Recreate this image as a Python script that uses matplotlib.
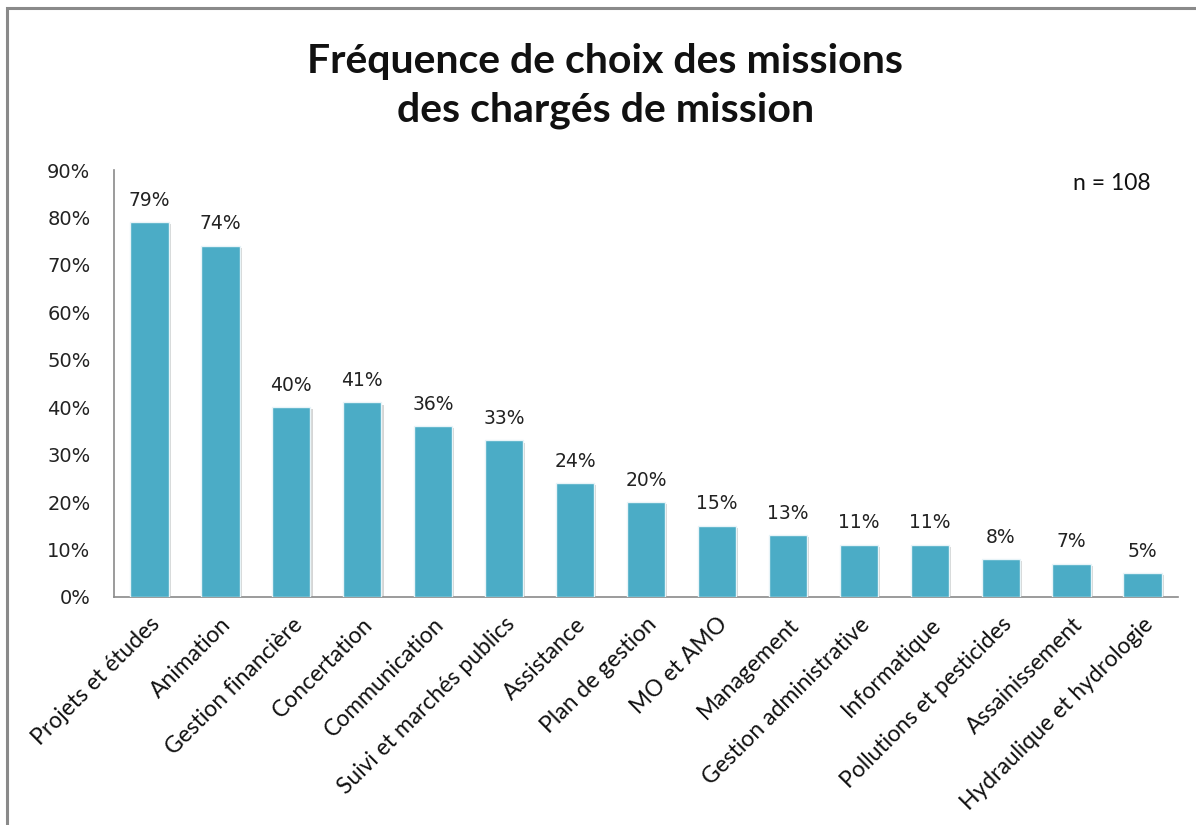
"""Fréquence de choix des missions des chargés de mission."""

import matplotlib.pyplot as plt
from matplotlib.patches import Rectangle
from matplotlib import patheffects as pe
from matplotlib.ticker import MultipleLocator, PercentFormatter

categories = [
    "Projets et études",
    "Animation",
    "Gestion financière",
    "Concertation",
    "Communication",
    "Suivi et marchés publics",
    "Assistance",
    "Plan de gestion",
    "MO et AMO",
    "Management",
    "Gestion administrative",
    "Informatique",
    "Pollutions et pesticides",
    "Assainissement",
    "Hydraulique et hydrologie",
]
values = [79, 74, 40, 41, 36, 33, 24, 20, 15, 13, 11, 11, 8, 7, 5]
n_label = "n = 108"

bar_color = "#4BACC6"
label_font = ["Lato", "DejaVu Sans"]

fig = plt.figure(figsize=(11.96, 8.25), dpi=100, facecolor="white")

# outer chart frame (cut off on the right and bottom)
fig.patches.append(
    Rectangle((7 / 1196, -0.1), 1.2, (825 - 7) / 825 + 0.1 - 0.001,
              transform=fig.transFigure, fill=False, edgecolor="#8a8a8a",
              linewidth=2.2, zorder=0)
)

ax = fig.add_axes([114 / 1196, 1 - 597 / 825, (1178 - 114) / 1196, (597 - 170) / 825])

x = list(range(len(categories)))
bars = ax.bar(x, values, width=0.54, color=bar_color, edgecolor="#e8f4f8",
              linewidth=1.0, zorder=3)
for b in bars:
    b.set_path_effects([
        pe.SimplePatchShadow(offset=(1.5, -1.5), shadow_rgbFace="#888888", alpha=0.35),
        pe.Normal(),
    ])

for xi, v in zip(x, values):
    ax.annotate(f"{v}%", (xi, v), textcoords="offset points", xytext=(0, 9),
                ha="center", va="bottom", fontsize=13.5, color="#222222",
                family="DejaVu Sans")

ax.set_xlim(-0.5, len(categories) - 0.5)
ax.set_ylim(0, 90)
ax.yaxis.set_major_locator(MultipleLocator(10))
ax.yaxis.set_major_formatter(PercentFormatter(decimals=0))
ax.tick_params(axis="y", length=0, pad=17, labelsize=14, labelcolor="#222222")
ax.tick_params(axis="x", length=0, pad=12)
ax.set_xticks(x)
ax.set_xticklabels(categories, rotation=45, ha="right", va="top",
                   rotation_mode="anchor", fontsize=16.5, family=label_font,
                   color="#111111")

for side in ("top", "right"):
    ax.spines[side].set_visible(False)
for side in ("left", "bottom"):
    ax.spines[side].set_color("#8a8a8a")
    ax.spines[side].set_linewidth(1.2)

fig.text(0.506, 1 - 86 / 825, "Fréquence de choix des missions\ndes chargés de mission",
         ha="center", va="center", fontsize=29.5, fontweight="bold",
         family=label_font, linespacing=1.4, color="#111111")

fig.text(1112 / 1196, 1 - 184 / 825, n_label, ha="center", va="center",
         fontsize=16.5, family=label_font, color="#111111")

fig.savefig("out.png", dpi=100, facecolor="white")
